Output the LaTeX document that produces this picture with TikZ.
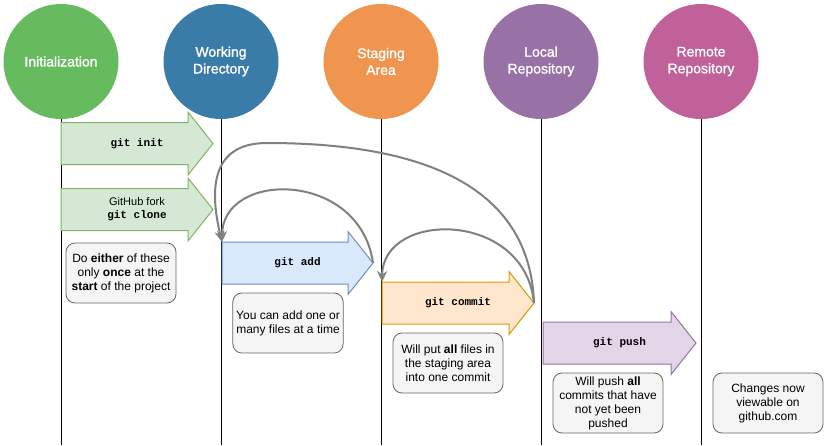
\documentclass[tikz,border=0pt]{standalone}
\usepackage{fontspec}
\setmainfont{Liberation Sans}
\setmonofont{Liberation Mono}
\newfontfamily\stagefont[FakeBold=1.2]{Liberation Sans}
\usetikzlibrary{arrows.meta}
\definecolor{initc}{HTML}{67BB5F}
\definecolor{workc}{HTML}{3A7CA8}
\definecolor{stagec}{HTML}{F0954F}
\definecolor{localc}{HTML}{9872A6}
\definecolor{remotec}{HTML}{C06299}
\definecolor{grnf}{HTML}{D5E8D4}
\definecolor{grnl}{HTML}{82B366}
\definecolor{bluf}{HTML}{DAE8FC}
\definecolor{blul}{HTML}{6C8EBF}
\definecolor{orgf}{HTML}{FFE6CC}
\definecolor{orgl}{HTML}{D79B00}
\definecolor{purf}{HTML}{E1D5E7}
\definecolor{purl}{HTML}{9673A6}
\definecolor{notef}{HTML}{F5F5F5}
\definecolor{notel}{HTML}{666666}
\definecolor{backc}{HTML}{808080}
\begin{document}
\begin{tikzpicture}[x=1pt, y=-1pt,
  stage/.style={circle, minimum size=115pt, inner sep=0pt, text=white, align=center, font=\stagefont\fontsize{14}{16.8}\selectfont},
  cmd/.style={align=center, font=\fontsize{11}{13}\selectfont},
  note/.style={draw=notel, fill=notef, rounded corners=9pt, line width=0.8pt, minimum width=110pt, minimum height=60pt, align=center, font=\fontsize{12}{14}\selectfont},
  back/.style={draw=backc, line width=2pt, -{Stealth[length=11pt, width=10pt]}}]
\useasboundingbox (0,0) rectangle (824,445);
\coordinate (bottom) at (0,445);

\foreach \nm/\x/\c/\txt in {init/61/initc/Initialization, work/221/workc/{Working\\Directory}, stage/381/stagec/{Staging\\Area}, local/541/localc/{Local\\Repository}, remote/701/remotec/{Remote\\Repository}}
{
\node[stage, fill=\c] (\nm) at (\x,61.5) {\txt};
\draw[line width=1pt] (\nm.south) -- (\nm.south |- bottom);
}

\foreach \nm/\xa/\xb/\yc/\f/\l/\txt in {init/61/213/143.5/grnf/grnl/{\ttfamily\bfseries git init}, clone/61/213/209.5/grnf/grnl/{GitHub fork\\\ttfamily\bfseries git clone}, add/222/373/263/bluf/blul/{\ttfamily\bfseries git add}, commit/382/534/303/orgf/orgl/{\ttfamily\bfseries git commit}, push/543/696/343/purf/purl/{\ttfamily\bfseries git push}}
{
\draw[\l, fill=\f, line width=1pt] (\xa,\yc-21) -- (\xb-25,\yc-21) -- (\xb-25,\yc-31.5) -- (\xb,\yc) -- (\xb-25,\yc+31.5) -- (\xb-25,\yc+21) -- (\xa,\yc+21) -- cycle;
\node[cmd] (\nm) at ({(\xa+\xb)/2},\yc) {\txt};
\coordinate (\nm-tip) at (\xb,\yc);
\coordinate (\nm-nw) at (\xa,\yc-21);
}

\node[note] (once) at (121,273) {Do \textbf{either} of these\\only \textbf{once} at the\\\textbf{start} of the project};
\node[note] (addnote) at (288,323) {You can add one or\\many files at a time};
\node[note] (commitnote) at (448,363) {Will put \textbf{all} files in\\the staging area\\into one commit};
\node[note] (pushnote) at (608,403) {Will push \textbf{all}\\commits that have\\not yet been\\pushed};
\node[note] (remotenote) at (768,403) {Changes now\\viewable on\\github.com};

\draw[back] (add-tip) .. controls (360,170) and (222,170) .. (add-nw);
\draw[back] (commit-tip) .. controls (525,210) and (383,210) .. (commit-nw);
\draw[back] (commit-tip) .. controls (530,190) and (430,143) .. (267,143) .. controls (205,143) and (212,200) .. (add-nw);
\end{tikzpicture}
\end{document}
